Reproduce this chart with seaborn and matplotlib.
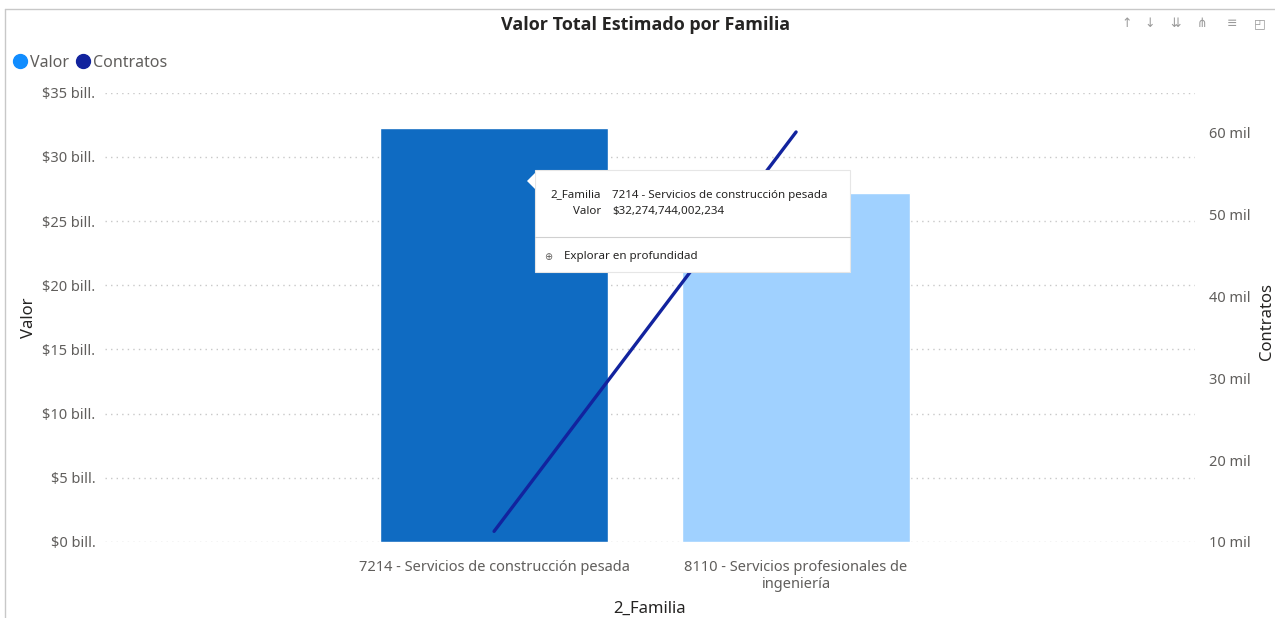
import numpy as np
import pandas as pd
import matplotlib
matplotlib.use("Agg")
import matplotlib.pyplot as plt
import seaborn as sns
from matplotlib.ticker import FuncFormatter, MultipleLocator
from matplotlib.patches import FancyBboxPatch, Polygon
from matplotlib.lines import Line2D

# data
familias = ["7214 - Servicios de construcción pesada",
            "8110 - Servicios profesionales de\ningeniería"]
valor = [32274744002234, 27.15e12]
contratos = [11300, 60100]
bar_colors = ["#0F6BC2", "#A0D1FF"]

df = pd.DataFrame({"2_Familia": familias, "Valor": valor, "Contratos": contratos})

sns.set_theme(style="white")
plt.rcParams["font.family"] = ["Noto Sans", "DejaVu Sans"]

fig = plt.figure(figsize=(12.75, 6.18), dpi=100)
ax = fig.add_axes([0.0824, 0.123, 0.8549, 0.727])

sns.barplot(data=df, x="2_Familia", y="Valor", hue="2_Familia",
            palette=bar_colors, width=0.755, saturation=1, legend=False, ax=ax)
ax.set_xlim(-1.288, 2.321)
ax.set_ylim(0, 35e12)
ax.yaxis.set_major_locator(MultipleLocator(5e12))
ax.yaxis.set_major_formatter(FuncFormatter(lambda v, p: f"${v/1e12:.0f} bill."))
ax.grid(axis="y", color="#C8C8C8", linestyle=(0, (1, 3)), linewidth=1)
ax.set_axisbelow(True)
for s in ax.spines.values():
    s.set_visible(False)
ax.tick_params(axis="y", length=0, labelsize=10.5, labelcolor="#605E5C", pad=7)
ax.tick_params(axis="x", length=0, labelsize=10.5, labelcolor="#605E5C", pad=13)
ax.set_ylabel("Valor", fontsize=12, color="#252423", labelpad=4)
ax.set_xlabel("2_Familia", fontsize=12, color="#252423", labelpad=6)

ax2 = ax.twinx()
sns.lineplot(data=df, x="2_Familia", y="Contratos", color="#12239E",
             linewidth=2.4, ax=ax2)
ax2.set_ylim(10000, 64900)
ax2.yaxis.set_major_locator(MultipleLocator(10000))
ax2.yaxis.set_major_formatter(FuncFormatter(lambda v, p: f"{v/1000:.0f} mil"))
ax2.tick_params(axis="y", length=0, labelsize=10.5, labelcolor="#605E5C", pad=10)
for s in ax2.spines.values():
    s.set_visible(False)
ax2.set_ylabel("Contratos", fontsize=12, color="#252423", ha="center", va="center")
ax2.yaxis.set_label_coords(1.066, 0.49)
ax2.grid(False)

# title and legend
fig.text(0.506, 0.96, "Valor Total Estimado por Familia", ha="center", va="center",
         fontsize=13, fontweight="bold", color="#252423",
         family=["Open Sans", "DejaVu Sans"])
handles = [Line2D([], [], marker="o", linestyle="", markersize=10, color="#118DFF"),
           Line2D([], [], marker="o", linestyle="", markersize=10, color="#12239E")]
fig.legend(handles, ["Valor", "Contratos"], loc="center left",
           bbox_to_anchor=(-0.003, 0.898), ncol=2, frameon=False, fontsize=11.5,
           handletextpad=0.0, columnspacing=0.3, labelcolor="#605E5C",
           handlelength=1.2)

# visual border
fig.add_artist(Line2D([0.004, 1.0], [0.985, 0.985], color="#C8C8C8", lw=1))
fig.add_artist(Line2D([0.004, 0.004], [0.0, 0.985], color="#C8C8C8", lw=1))

# header icons
for x, t in zip([0.884, 0.902, 0.922, 0.943, 0.966, 0.988],
                ["↑", "↓", "⇊", "⋔", "≡", "◰"]):
    fig.text(x, 0.962, t, ha="center", va="center", fontsize=9,
             color="#9A9A9A", family=["DejaVu Sans"])

# tooltip overlay
tip = FancyBboxPatch((535 / 1275, 1 - 272 / 618), 315 / 1275, 102 / 618,
                     boxstyle="square,pad=0", transform=fig.transFigure,
                     facecolor="white", edgecolor="#E6E6E6", lw=0.8, zorder=10)
fig.add_artist(tip)
fig.add_artist(Polygon([[535 / 1275, 1 - 173 / 618], [527 / 1275, 1 - 181 / 618],
                        [535 / 1275, 1 - 189 / 618]], closed=True,
                       transform=fig.transFigure, facecolor="white",
                       edgecolor="none", zorder=11))
tkw = dict(fontsize=8.3, color="#252423", zorder=12, va="center")
fig.text(601 / 1275, 1 - 195 / 618, "2_Familia", ha="right", **tkw)
fig.text(601 / 1275, 1 - 212 / 618, "Valor", ha="right", **tkw)
fig.text(612 / 1275, 1 - 195 / 618, "7214 - Servicios de construcción pesada", ha="left", **tkw)
fig.text(612 / 1275, 1 - 212 / 618, "$32,274,744,002,234", ha="left", **tkw)
fig.add_artist(Line2D([535 / 1275, 850 / 1275], [1 - 237 / 618, 1 - 237 / 618],
                      color="#D0D0D0", lw=0.8, zorder=12))
fig.text(548 / 1275, 1 - 257 / 618, "⊕", ha="center", fontsize=7,
         color="#605E5C", zorder=12, va="center", family=["DejaVu Sans"])
fig.text(564 / 1275, 1 - 257 / 618, "Explorar en profundidad", ha="left", **tkw)

fig.savefig("out.png", dpi=100)
